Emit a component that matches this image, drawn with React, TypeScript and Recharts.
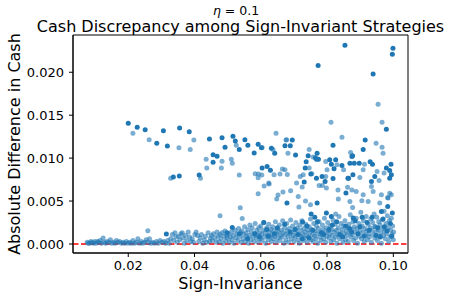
import { FC } from 'react'
import { ScatterChart, Scatter, XAxis, YAxis, ReferenceLine, ReferenceArea } from 'recharts'

type Pair = [number, number]

// strategies that coincide (drawn solid) and single strategies (half transparent)
const repeatedPts: Pair[] = [
  [0.0200, 0.01406], [0.0227, 0.0136], [0.0251, 0.0133], [0.0306, 0.0132], [0.0355, 0.01352], [0.0384, 0.01306],
  [0.0445, 0.01224], [0.0483, 0.01236], [0.0516, 0.01256], [0.0552, 0.01213], [0.0592, 0.01163],
  [0.0286, 0.01174], [0.0318, 0.0114], [0.0492, 0.01128], [0.0523, 0.012], [0.0535, 0.011], [0.0561, 0.0115], [0.0602, 0.0112],
  [0.0854, 0.02314], [0.0999, 0.0228], [0.0997, 0.0221], [0.0773, 0.0208], [0.0939, 0.0198], [0.0979, 0.01337],
  [0.0695, 0.0121], [0.0915, 0.0121], [0.0632, 0.01116], [0.0673, 0.01143], [0.0689, 0.01143], [0.0818, 0.0115], [0.0909, 0.011],
  [0.0642, 0.01058], [0.0705, 0.01035], [0.0743, 0.01027], [0.077, 0.01058], [0.0765, 0.01003], [0.0877, 0.01027], [0.058, 0.0106],
  [0.0768, 0.00988], [0.0774, 0.00988], [0.0737, 0.00957], [0.0734, 0.00884], [0.0751, 0.00814], [0.0875, 0.01019],
  [0.0808, 0.0098], [0.0826, 0.0098], [0.0813, 0.0093], [0.0821, 0.00876], [0.0845, 0.00914], [0.0869, 0.0094], [0.0882, 0.0094], [0.0897, 0.0094],
  [0.093, 0.00957], [0.0937, 0.0093], [0.0993, 0.0093], [0.0979, 0.00884], [0.0989, 0.00856], [0.0994, 0.00806], [0.0944, 0.00786],
  [0.0865, 0.00767], [0.0878, 0.00806], [0.0604, 0.00884], [0.0619, 0.00902], [0.0629, 0.0086], [0.0785, 0.00786], [0.0818, 0.00763],
  [0.0456, 0.01038], [0.0468, 0.01023], [0.0456, 0.00953], [0.0414, 0.00802], [0.0336, 0.00779], [0.0354, 0.00791],
  [0.0679, 0.00477], [0.077, 0.00477], [0.0752, 0.00349], [0.0726, 0.00256], [0.0731, 0.00721], [0.0794, 0.00728], [0.0857, 0.00593],
  [0.0934, 0.00728], [0.0989, 0.00767], [0.0983, 0.00437], [0.0964, 0.00379], [0.0879, 0.00302], [0.0813, 0.00321], [0.0798, 0.0036],
  [0.0763, 0.0031], [0.0768, 0.00767], [0.0863, 0.00767], [0.0315, 0.00116], [0.0514, 0.00193],
  [0.0582, 0.0012], [0.0623, 0.0009], [0.065, 0.0019], [0.0688, 0.0014], [0.0725, 0.0006], [0.0757, 0.0016], [0.079, 0.0011],
  [0.0816, 0.0022], [0.0847, 0.0008], [0.0868, 0.0018], [0.0893, 0.0012], [0.0921, 0.0025], [0.0948, 0.001], [0.0973, 0.002],
  [0.0995, 0.0009], [0.0535, 0.0012], [0.056, 0.0006], [0.0498, 0.0013], [0.0609, 0.0025], [0.0906, 0.0031],
  [0.0672, 0.0023], [0.0704, 0.0017], [0.0739, 0.0021], [0.0771, 0.0026], [0.0783, 0.0013], [0.0806, 0.0017], [0.0829, 0.0026],
  [0.0838, 0.0011], [0.0856, 0.0021], [0.0874, 0.0014], [0.0885, 0.0027], [0.0899, 0.002], [0.0912, 0.0009], [0.0927, 0.0016],
  [0.0936, 0.0031], [0.0953, 0.0019], [0.0961, 0.0008], [0.0969, 0.0029], [0.0981, 0.0015], [0.0991, 0.0024], [0.0997, 0.0036],
  [0.0641, 0.0012], [0.0618, 0.0017], [0.0596, 0.0008], [0.0712, 0.0011], [0.0746, 0.0007],
]

const upperPts: Pair[] = [
  [0.0214, 0.0129], [0.0263, 0.01213], [0.0353, 0.0112], [0.0387, 0.011], [0.0398, 0.0121], [0.0526, 0.0115],
  [0.0954, 0.01628], [0.0812, 0.01419], [0.0966, 0.01419], [0.0646, 0.0129], [0.0676, 0.0121], [0.0845, 0.01244], [0.0948, 0.01174],
  [0.0604, 0.01123], [0.0746, 0.011], [0.0969, 0.01058], [0.0871, 0.01065], [0.0682, 0.01058], [0.0966, 0.01128],
  [0.0678, 0.01213], [0.0637, 0.011], [0.0758, 0.01012], [0.0796, 0.0096], [0.08, 0.00864], [0.083, 0.00922], [0.0913, 0.0093],
  [0.0972, 0.00826], [0.0951, 0.00844], [0.0909, 0.00864], [0.0899, 0.00774], [0.085, 0.00864], [0.0583, 0.00817], [0.0593, 0.00814],
  [0.0603, 0.00802], [0.064, 0.00806], [0.0658, 0.00814], [0.0673, 0.00864], [0.0665, 0.00872], [0.068, 0.0081], [0.0728, 0.00806],
  [0.0754, 0.00817], [0.0796, 0.00786], [0.0719, 0.00786], [0.0746, 0.00884],
  [0.0435, 0.00988], [0.0483, 0.00965], [0.0511, 0.00988], [0.0514, 0.0094], [0.0437, 0.00884], [0.0481, 0.00884], [0.0328, 0.00767],
  [0.0418, 0.00767], [0.0535, 0.00802], [0.061, 0.00674], [0.0592, 0.00585], [0.0624, 0.00709], [0.0592, 0.00771],
  [0.0477, 0.00329], [0.0538, 0.00422], [0.0544, 0.00298], [0.0259, 0.00155], [0.0625, 0.00698], [0.0648, 0.00523], [0.0667, 0.00605],
  [0.0713, 0.00553], [0.0715, 0.0043], [0.075, 0.00457], [0.0725, 0.00663], [0.0776, 0.00681], [0.0834, 0.00523], [0.0875, 0.0063],
  [0.0862, 0.0066], [0.0888, 0.0061], [0.0909, 0.00573], [0.0905, 0.00503], [0.0934, 0.0067], [0.0939, 0.00612], [0.0957, 0.0074],
  [0.0959, 0.00477], [0.0984, 0.00535], [0.0994, 0.00573], [0.0944, 0.00205], [0.0826, 0.00349], [0.0877, 0.00426], [0.0786, 0.00681],
  [0.0798, 0.00651], [0.0833, 0.0063], [0.0869, 0.00495], [0.0924, 0.00495], [0.0964, 0.00573], [0.0983, 0.0054], [0.0989, 0.0059],
  [0.0708, 0.0071], [0.069, 0.0062], [0.0735, 0.005], [0.0652, 0.0057],
]

// small sign-invariance, hugging zero
const lowLeftPts: Pair[] = [
  [0.0076, 0.0002], [0.0079, 0.0001], [0.0083, 0.0001], [0.0087, 0.0003], [0.0091, 0.0002], [0.0095, 0.0001], [0.0099, 0.0003],
  [0.0103, 0.0001], [0.0107, 0.0003], [0.0111, 0.0002], [0.0115, 0.0004], [0.0119, 0.0001], [0.0124, 0.0007], [0.0127, 0.0002],
  [0.0132, 0.0001], [0.0136, 0.0003], [0.0141, 0.0002], [0.0146, 0.0005], [0.015, 0.0001], [0.0155, 0.0002], [0.016, 0.0001],
  [0.0164, 0.0004], [0.0169, 0.0002], [0.0174, 0.0003], [0.0179, 0.0001], [0.0184, 0.0002], [0.0189, 0.0001], [0.0194, 0.0003],
  [0.0199, 0.0001], [0.0204, 0.0002], [0.0209, 0.0001], [0.0214, 0.0004], [0.0219, 0.0001], [0.0224, 0.0002], [0.0229, 0.0006],
  [0.0234, 0.0001], [0.0239, 0.0003], [0.0244, 0.0001], [0.0249, 0.0002], [0.0254, 0.0005], [0.0259, 0.0002], [0.0264, 0.0006],
  [0.0268, 0.0001], [0.0273, 0.0002], [0.0279, 0.0001], [0.0285, 0.0003], [0.0291, 0.0001], [0.0296, 0.0004], [0.0302, 0.0002],
  [0.0308, 0.0003], [0.0313, 0.0001], [0.0319, 0.0004], [0.0324, 0.0001], [0.0328, 0.0006], [0.0333, 0.0011], [0.0337, 0.0004],
  [0.0341, 0.0013], [0.0344, 0.0008], [0.0348, 0.0002], [0.0352, 0.0009], [0.0356, 0.0005], [0.0359, 0.0012], [0.0363, 0.0013],
  [0.0366, 0.0007], [0.0369, 0.0001], [0.0373, 0.001], [0.0377, 0.0004], [0.0381, 0.0014], [0.0385, 0.0008], [0.0389, 0.0003],
  [0.0393, 0.0006], [0.0397, 0.0002], [0.0401, 0.0011], [0.0405, 0.0014], [0.0409, 0.001], [0.0413, 0.0003], [0.0417, 0.0007],
  [0.0421, 0.0011], [0.0425, 0.0001], [0.0429, 0.0005], [0.0433, 0.0009], [0.0437, 0.0002], [0.0441, 0.0013], [0.0445, 0.0003], [0.0448, 0.0007],
]

// the dense band at larger sign-invariance
const lowRightPts: Pair[] = [
  [0.0451, 0.001], [0.0454, 0.0004], [0.0457, 0.0012], [0.0462, 0.0007], [0.0466, 0.0002],
  [0.0468, 0.0014], [0.0471, 0.0009], [0.0474, 0.0003], [0.0477, 0.0011],
  [0.048, 0.0006], [0.0483, 0.0013], [0.0486, 0.0001], [0.0489, 0.0009],
  [0.0492, 0.0015], [0.0494, 0.0004], [0.0497, 0.001], [0.0499, 0.0007],
  [0.0502, 0.0012], [0.0505, 0.0002], [0.0508, 0.0008], [0.0511, 0.0014], [0.0513, 0.0005],
  [0.0517, 0.001], [0.0519, 0.0001], [0.0522, 0.0016], [0.0525, 0.0007], [0.0528, 0.0012],
  [0.0531, 0.0004], [0.0533, 0.0018], [0.0536, 0.0009], [0.0539, 0.0013], [0.0541, 0.0002],
  [0.0543, 0.0015], [0.0546, 0.0006], [0.0549, 0.0011], [0.0551, 0.002], [0.0553, 0.0003],
  [0.0556, 0.0013], [0.0558, 0.0008], [0.0561, 0.0017], [0.0563, 0.0001], [0.0565, 0.001], [0.0567, 0.0022],
  [0.057, 0.0005], [0.0572, 0.0014], [0.0574, 0.0019], [0.0577, 0.0009], [0.0579, 0.0003],
  [0.0581, 0.0012], [0.0583, 0.0024], [0.0586, 0.0007], [0.0588, 0.0016], [0.059, 0.001],
  [0.0592, 0.0002], [0.0594, 0.0019], [0.0596, 0.0013], [0.0598, 0.0006], [0.06, 0.0021],
  [0.0602, 0.0011], [0.0604, 0.0004], [0.0607, 0.0016], [0.0609, 0.0025], [0.0611, 0.0008],
  [0.0613, 0.0013], [0.0615, 0.0001], [0.0618, 0.0019], [0.062, 0.001], [0.0622, 0.0005],
  [0.0624, 0.0023], [0.0626, 0.0014], [0.0628, 0.0008], [0.063, 0.0017], [0.0632, 0.0003],
  [0.0634, 0.0011], [0.0636, 0.002], [0.0638, 0.0006], [0.064, 0.0015], [0.0642, 0.0009],
  [0.0644, 0.0026], [0.0646, 0.0002], [0.0648, 0.0012], [0.065, 0.0018], [0.0652, 0.0007],
  [0.0654, 0.0014], [0.0656, 0.0022], [0.0658, 0.0004], [0.066, 0.001], [0.0662, 0.0016],
  [0.0664, 0.0008], [0.0666, 0.0027], [0.0668, 0.0013], [0.067, 0.0001], [0.0672, 0.0019],
  [0.0674, 0.0011], [0.0676, 0.0005], [0.0678, 0.0024], [0.068, 0.0015], [0.0682, 0.0009],
  [0.0684, 0.0002], [0.0686, 0.0018], [0.0688, 0.0012], [0.069, 0.0028], [0.0692, 0.0006],
  [0.0694, 0.0014], [0.0696, 0.0021], [0.0698, 0.001], [0.07, 0.0003], [0.0702, 0.0017],
  [0.0704, 0.0008], [0.0706, 0.0025], [0.0708, 0.0013], [0.071, 0.0019], [0.0712, 0.0005],
  [0.0714, 0.0011], [0.0716, 0.0001], [0.0718, 0.0022], [0.072, 0.0016], [0.0722, 0.0009],
  [0.0724, 0.0027], [0.0726, 0.0012], [0.0728, 0.0004], [0.073, 0.0018], [0.0732, 0.0007],
  [0.0734, 0.0014], [0.0736, 0.0023], [0.0738, 0.001], [0.074, 0.0002], [0.0742, 0.0016],
  [0.0744, 0.0008], [0.0746, 0.002], [0.0748, 0.0013], [0.075, 0.0029], [0.0752, 0.0005],
  [0.0754, 0.0017], [0.0756, 0.0011], [0.0758, 0.0003], [0.076, 0.0024], [0.0762, 0.0009],
  [0.0764, 0.0015], [0.0766, 0.0006], [0.0768, 0.0021], [0.077, 0.0012], [0.0772, 0.0001],
  [0.0774, 0.0018], [0.0776, 0.0026], [0.0778, 0.0008], [0.078, 0.0014], [0.0782, 0.0004],
  [0.0784, 0.0011], [0.0786, 0.0022], [0.0788, 0.0017], [0.079, 0.0006], [0.0792, 0.003],
  [0.0794, 0.0013], [0.0796, 0.0002], [0.0798, 0.0019], [0.08, 0.0009], [0.0802, 0.0025],
  [0.0804, 0.0015], [0.0806, 0.0007], [0.0808, 0.0012], [0.081, 0.0021], [0.0812, 0.0003],
  [0.0814, 0.0017], [0.0816, 0.001], [0.0818, 0.0028], [0.082, 0.0005], [0.0822, 0.0014],
  [0.0824, 0.0023], [0.0826, 0.0008], [0.0828, 0.0016], [0.083, 0.0001], [0.0832, 0.0011],
  [0.0834, 0.0019], [0.0836, 0.0032], [0.0838, 0.0006], [0.084, 0.0013], [0.0842, 0.0024],
  [0.0844, 0.0009], [0.0846, 0.0017], [0.0848, 0.0002], [0.085, 0.0021], [0.0852, 0.0012],
  [0.0854, 0.0027], [0.0856, 0.0005], [0.0858, 0.0015], [0.086, 0.001], [0.0862, 0.0019],
  [0.0864, 0.0003], [0.0866, 0.0023], [0.0868, 0.0013], [0.087, 0.0034], [0.0872, 0.0008],
  [0.0874, 0.0017], [0.0876, 0.0011], [0.0878, 0.0026], [0.088, 0.0004], [0.0882, 0.002],
  [0.0884, 0.0014], [0.0886, 0.0007], [0.0888, 0.003], [0.089, 0.0018], [0.0892, 0.0001],
  [0.0894, 0.0012], [0.0896, 0.0024], [0.0898, 0.0009], [0.09, 0.0016], [0.0902, 0.0037],
  [0.0904, 0.0006], [0.0906, 0.0021], [0.0908, 0.0013], [0.091, 0.0027], [0.0912, 0.0003],
  [0.0914, 0.0018], [0.0916, 0.001], [0.0918, 0.0032], [0.092, 0.0015], [0.0922, 0.0005],
  [0.0924, 0.0023], [0.0926, 0.0012], [0.0928, 0.0008], [0.093, 0.0019], [0.0932, 0.0029],
  [0.0934, 0.0002], [0.0936, 0.0016], [0.0938, 0.0025], [0.094, 0.0011], [0.0942, 0.0035],
  [0.0944, 0.0007], [0.0946, 0.002], [0.0948, 0.0014], [0.095, 0.0031], [0.0952, 0.0004],
  [0.0954, 0.0017], [0.0956, 0.0026], [0.0958, 0.0009], [0.096, 0.0022], [0.0962, 0.0013],
  [0.0964, 0.0001], [0.0966, 0.0028], [0.0968, 0.0018], [0.097, 0.001], [0.0972, 0.0038],
  [0.0974, 0.0015], [0.0976, 0.0006], [0.0978, 0.0024], [0.098, 0.0012], [0.0982, 0.0033],
  [0.0984, 0.0019], [0.0986, 0.0003], [0.0988, 0.0027], [0.099, 0.0008], [0.0992, 0.0016],
  [0.0994, 0.003], [0.0996, 0.0011], [0.0998, 0.0021], [0.1, 0.0005], [0.1001, 0.0014],
]

const xTicks = [0.02, 0.04, 0.06, 0.08, 0.1]
const yTicks = [0, 0.005, 0.01, 0.015, 0.02]

const X_DOMAIN: [number, number] = [0.00332, 0.10443]
const Y_DOMAIN: [number, number] = [-0.00105, 0.02434]

const BLUE = '#1f77b4'
const FONT = '"DejaVu Sans", sans-serif'

const toPoints = (pts: Pair[]) => pts.map(([x, y]) => ({ x, y }))

const dot = (opacity: number) => (p: any) => (
  <circle cx={p.cx} cy={p.cy} r={2.5} fill={BLUE} fillOpacity={opacity} />
)

const tickStyle = { fontSize: 13, fill: '#000', fontFamily: FONT }

const App: FC = () => {
  const single = toPoints([...upperPts, ...lowLeftPts, ...lowRightPts])
  const repeated = toPoints(repeatedPts)

  return (
    <div style={{ position: 'absolute', left: 0, top: 0, width: 452, height: 300, background: '#fff' }}>
      <ScatterChart width={452} height={300} margin={{ top: 35, right: 44, bottom: 0, left: 0 }}>
        <XAxis
          type="number"
          dataKey="x"
          domain={X_DOMAIN}
          ticks={xTicks}
          allowDataOverflow
          height={47}
          tickFormatter={(v: number) => v.toFixed(2)}
          tick={tickStyle}
          tickSize={4}
          tickMargin={4}
          stroke="#000"
        />
        <YAxis
          type="number"
          dataKey="y"
          domain={Y_DOMAIN}
          ticks={yTicks}
          allowDataOverflow
          width={73}
          tickFormatter={(v: number) => v.toFixed(3)}
          tick={tickStyle}
          tickSize={4}
          tickMargin={5}
          stroke="#000"
        />
        <ReferenceArea
          x1={X_DOMAIN[0]}
          x2={X_DOMAIN[1]}
          y1={Y_DOMAIN[0]}
          y2={Y_DOMAIN[1]}
          fill="none"
          fillOpacity={0}
          stroke="#000"
          strokeWidth={1}
        />
        <Scatter data={single} shape={dot(0.6)} isAnimationActive={false} />
        <Scatter data={repeated} shape={dot(1)} isAnimationActive={false} />
        <ReferenceLine y={0} stroke="#ff0000" strokeWidth={1.5} strokeDasharray="5.5 2.5" />
      </ScatterChart>
      <svg
        width={452}
        height={300}
        style={{ position: 'absolute', left: 0, top: 0, pointerEvents: 'none' }}
        fontFamily={FONT}
      >
        <text x={236} y={14.5} fontSize={12.5} textAnchor="middle">
          <tspan fontStyle="italic">η</tspan> = 0.1
        </text>
        <text x={240.5} y={32} fontSize={16} textAnchor="middle">
          Cash Discrepancy among Sign-Invariant Strategies
        </text>
        <text x={240.5} y={289} fontSize={16} textAnchor="middle">
          Sign-Invariance
        </text>
        <text x={19.5} y={144} fontSize={16} textAnchor="middle" transform="rotate(-90 19.5 144)">
          Absolute Difference in Cash
        </text>
      </svg>
    </div>
  )
}

export default App
